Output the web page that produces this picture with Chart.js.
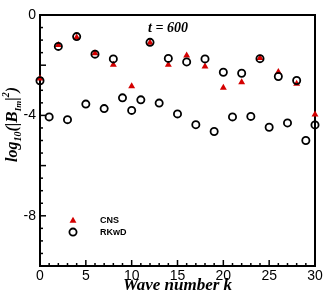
<!DOCTYPE html>
<html lang="en">
<head>
<meta charset="UTF-8">
<title>log10 |B_Im|^2 vs wave number</title>
<script src="https://cdn.jsdelivr.net/npm/chart.js@4.4.1/dist/chart.umd.min.js"></script>
<style>
  body { margin: 0; background: #fff; }
  canvas { display: block; }
</style>
</head>
<body>
<canvas id="spec" width="332" height="296"></canvas>
<script>
  // wave numbers and values
  const kAll = [0,1,2,3,4,5,6,7,8,9,10,11,12,13,14,15,16,17,18,19,20,21,22,23,24,25,26,27,28,29,30];
  const rkwd = [-2.62,-4.06,-1.25,-4.17,-0.86,-3.55,-1.56,-3.73,-1.75,-3.30,-3.80,-3.38,-1.09,-3.51,-1.73,-3.94,
                -1.87,-4.37,-1.75,-4.64,-2.28,-4.06,-2.32,-4.04,-1.74,-4.47,-2.45,-4.30,-2.61,-5.00,-4.38];
  const kEven = [0,2,4,6,8,10,12,14,16,18,20,22,24,26,28,30];
  const cns = [-2.53,-1.20,-0.90,-1.52,-1.98,-2.84,-1.11,-1.98,-1.61,-2.05,-2.90,-2.68,-1.71,-2.27,-2.74,-3.96];
  const xTicks = [0,5,10,15,20,25,30];
  const yTicks = [0,-4,-8];
  const seriesNames = ['CNS', 'RKwD'];
  const timeLabel = 't = 600';

  const RED = '#d40000';
  const serif = '"Liberation Serif", "DejaVu Serif", serif';

  // frame, inward ticks, y title, time label and legend
  const decor = {
    id: 'decor',
    beforeDatasetsDraw(chart) {
      const ctx = chart.ctx, a = chart.chartArea;
      const xs = chart.scales.x, ys = chart.scales.y;
      ctx.save();
      ctx.strokeStyle = '#000';
      ctx.lineWidth = 1.5;
      for (let v = 1; v < 30; v++) {
        const len = v % 5 === 0 ? 6 : 3;
        const px = xs.getPixelForValue(v);
        ctx.beginPath(); ctx.moveTo(px, a.bottom); ctx.lineTo(px, a.bottom - len); ctx.stroke();
      }
      for (let v = -9.5; v < 0; v += 0.5) {
        const len = v % 2 === 0 ? 6 : 3;
        const py = ys.getPixelForValue(v);
        ctx.beginPath(); ctx.moveTo(a.left, py); ctx.lineTo(a.left + len, py); ctx.stroke();
      }
      ctx.lineWidth = 2;
      ctx.strokeRect(a.left, a.top, a.right - a.left, a.bottom - a.top);
      ctx.restore();
    },
    afterDraw(chart) {
      const ctx = chart.ctx;
      const xs = chart.scales.x, ys = chart.scales.y;
      ctx.save();
      // time label
      ctx.fillStyle = '#000';
      ctx.font = 'italic bold 14px ' + serif;
      ctx.textAlign = 'center';
      ctx.textBaseline = 'alphabetic';
      ctx.fillText(timeLabel, 168, 32);

      // y axis title with sub/superscripts
      const parts = [
        {t: 'log', s: 16, d: 0}, {t: '10', s: 10, d: 4}, {t: '(|', s: 16, d: 0},
        {t: 'B', s: 17, d: 0}, {t: 'Im', s: 9, d: 4}, {t: '|', s: 16, d: 0},
        {t: '2', s: 10, d: -8}, {t: ')', s: 16, d: 0}
      ];
      ctx.save();
      ctx.translate(17, 162);
      ctx.rotate(-Math.PI / 2);
      ctx.textAlign = 'left';
      let x = 0;
      parts.forEach(p => {
        ctx.font = 'italic bold ' + p.s + 'px ' + serif;
        ctx.fillText(p.t, x, p.d);
        x += ctx.measureText(p.t).width;
      });
      ctx.restore();

      // legend
      const lx = xs.getPixelForValue(3.6);
      const items = [
        {y: ys.getPixelForValue(-8.2), style: 'triangle', bg: RED, bc: RED, bw: 0, r: 4},
        {y: ys.getPixelForValue(-8.65), style: 'circle', bg: 'rgba(0,0,0,0)', bc: '#000', bw: 1.8, r: 3.6}
      ];
      items.forEach((it, i) => {
        ctx.fillStyle = it.bg; ctx.strokeStyle = it.bc; ctx.lineWidth = it.bw;
        Chart.helpers.drawPoint(ctx, {pointStyle: it.style, radius: it.r, borderWidth: it.bw, rotation: 0}, lx, it.y);
        ctx.fillStyle = '#000';
        ctx.font = 'bold 9px "Liberation Sans", Arial, sans-serif';
        ctx.textAlign = 'left';
        ctx.textBaseline = 'middle';
        ctx.fillText(seriesNames[i], 100, it.y);
      });
      ctx.restore();
    }
  };

  new Chart('spec', {
    type: 'scatter',
    data: {
      datasets: [{
        label: seriesNames[0],
        data: kEven.map((k, i) => ({x: k, y: cns[i]})),
        pointStyle: 'triangle',
        pointRadius: 4,
        pointBackgroundColor: RED,
        pointBorderColor: RED,
        pointBorderWidth: 0,
        clip: false,
        order: 2
      }, {
        label: seriesNames[1],
        data: kAll.map((k, i) => ({x: k, y: rkwd[i]})),
        pointStyle: 'circle',
        pointRadius: 3.6,
        pointBackgroundColor: 'rgba(0,0,0,0)',
        pointBorderColor: '#000',
        pointBorderWidth: 1.8,
        clip: false,
        order: 1
      }]
    },
    options: {
      responsive: false,
      animation: false,
      layout: { padding: { top: 15, right: 17, left: 0, bottom: 0 } },
      plugins: { legend: { display: false }, tooltip: { enabled: false } },
      scales: {
        x: {
          min: 0, max: 30,
          grid: { display: false, drawTicks: false },
          border: { display: false },
          afterBuildTicks: s => { s.ticks = xTicks.map(v => ({value: v})); },
          afterFit: s => { s.height = 30; },
          ticks: { color: '#000', padding: 2, maxRotation: 0,
                   font: { family: '"Liberation Sans", Arial, sans-serif', size: 14 } },
          title: { display: true, text: 'Wave number k', color: '#000', padding: 0,
                   font: { family: serif, size: 17, style: 'italic', weight: 'bold' } }
        },
        y: {
          min: -10, max: 0,
          grid: { display: false, drawTicks: false },
          border: { display: false },
          afterBuildTicks: s => { s.ticks = yTicks.map(v => ({value: v})); },
          afterFit: s => { s.width = 40; },
          ticks: { color: '#000', padding: 4,
                   font: { family: '"Liberation Sans", Arial, sans-serif', size: 14 } }
        }
      }
    },
    plugins: [decor]
  });
</script>
</body>
</html>
